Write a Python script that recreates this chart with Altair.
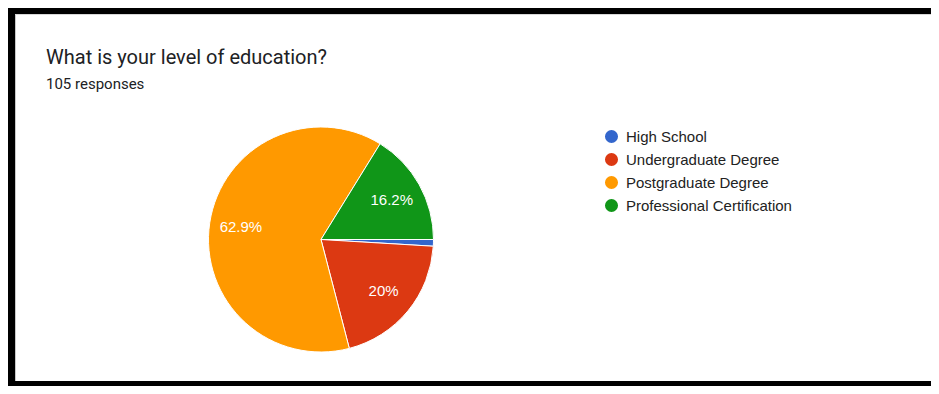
import math
import altair as alt
import pandas as pd

categories = ["High School", "Undergraduate Degree", "Postgraduate Degree", "Professional Certification"]
counts = [1, 21, 66, 17]
colors = ["#3366cc", "#dc3912", "#ff9900", "#109618"]
title_text = "What is your level of education?"
subtitle_text = "105 responses"

total = sum(counts)
labels = []
for c in counts:
    p = c / total * 100
    s = f"{p:.1f}".rstrip("0").rstrip(".") + "%"
    labels.append(s if p >= 5 else "")

df = pd.DataFrame({
    "category": categories,
    "count": counts,
    "order": list(range(len(categories))),
    "label": labels,
})

W, H = 923, 378
CX, CY = 313, 231.5
R = 112.5

theta = alt.Theta("count:Q", stack=True,
                  scale=alt.Scale(range=[math.pi / 2, math.pi / 2 + 2 * math.pi]))
color = alt.Color("category:N",
                  scale=alt.Scale(domain=categories, range=colors),
                  sort=categories,
                  legend=alt.Legend(title=None, orient="none", legendX=596, legendY=121,
                                    symbolType="circle", symbolSize=170, symbolStrokeWidth=0,
                                    labelFont="Liberation Sans", labelFontSize=15,
                                    labelColor="#222222", labelOffset=7, rowPadding=7,
                                    labelLimit=0, padding=0))

pie = alt.Chart(df).mark_arc(outerRadius=R, stroke="white", strokeWidth=1).encode(
    theta=theta,
    color=color,
    order=alt.Order("order:Q"),
    x=alt.value(CX),
    y=alt.value(CY),
)

text = alt.Chart(df).mark_text(radius=81, font="Liberation Sans", fontSize=15,
                               color="white").encode(
    theta=theta,
    order=alt.Order("order:Q"),
    text="label:N",
    x=alt.value(CX),
    y=alt.value(CY),
)

frame_df = pd.DataFrame({"k": [0]})
left_band = alt.Chart(frame_df).mark_rule(color="black", strokeWidth=7).encode(
    x=alt.value(3.5), y=alt.value(0), y2=alt.value(H))
left_line = alt.Chart(frame_df).mark_rule(color="#c8c8c8", strokeWidth=1).encode(
    x=alt.value(7.5), y=alt.value(6), y2=alt.value(H - 5))
top_band = alt.Chart(frame_df).mark_rule(color="black", strokeWidth=6).encode(
    y=alt.value(3), x=alt.value(0), x2=alt.value(W))
top_line = alt.Chart(frame_df).mark_rule(color="#d8d8d8", strokeWidth=1).encode(
    y=alt.value(6.5), x=alt.value(7), x2=alt.value(W))
bottom_band = alt.Chart(frame_df).mark_rule(color="black", strokeWidth=5).encode(
    y=alt.value(H - 2.5), x=alt.value(0), x2=alt.value(W))

chart = alt.layer(pie, text, left_band, left_line, top_band, top_line, bottom_band).properties(
    width=W, height=H,
    autosize=alt.AutoSizeParams(type="none"),
    padding=0,
    title=alt.TitleParams(text=title_text, subtitle=subtitle_text, anchor="start",
                          orient="top", frame="group", offset=0, dx=38, dy=87.5,
                          font="Roboto", fontSize=20, fontWeight="normal", color="#202124",
                          subtitleFont="Roboto", subtitleFontSize=15,
                          subtitleColor="#202124", subtitlePadding=9),
).configure(background="white", view=alt.ViewConfig(stroke=None))

chart.save("out.html", embed_options={"renderer": "svg", "actions": False})
